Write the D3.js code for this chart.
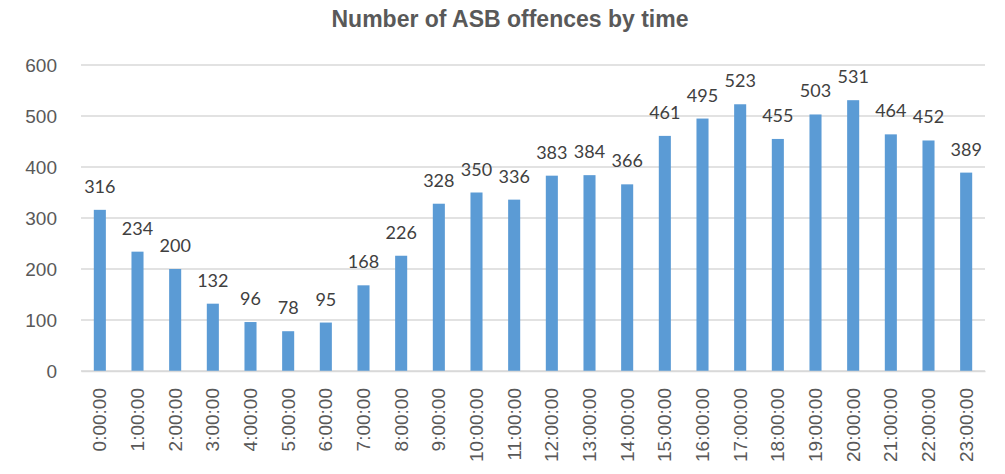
<!DOCTYPE html>
<html>
<head>
<meta charset="utf-8">
<script src="https://cdn.jsdelivr.net/npm/d3@7"></script>
<style>
    body { margin: 0; background: #fff; }
    svg { display: block; }
</style>
</head>
<body>
<svg width="1005" height="474"></svg>
<script>
const hours = ['0:00:00', '1:00:00', '2:00:00', '3:00:00', '4:00:00', '5:00:00',
    '6:00:00', '7:00:00', '8:00:00', '9:00:00', '10:00:00', '11:00:00',
    '12:00:00', '13:00:00', '14:00:00', '15:00:00', '16:00:00', '17:00:00',
    '18:00:00', '19:00:00', '20:00:00', '21:00:00', '22:00:00', '23:00:00'];
const offences = [316, 234, 200, 132, 96, 78, 95, 168, 226, 328, 350, 336,
    383, 384, 366, 461, 495, 523, 455, 503, 531, 464, 452, 389];
const yTicks = [0, 100, 200, 300, 400, 500, 600];

const svg = d3.select('svg');

const margin = {
    top: 65,
    left: 81,
    right: 20,
    bottom: 103
};

const width = +svg.attr('width') - margin.left - margin.right;
const height = +svg.attr('height') - margin.top - margin.bottom;

const chart = svg
    .append('g')
    .attr('transform', `translate(${margin.left},${margin.top})`);

// Title
svg.append('text')
    .attr('x', 510)
    .attr('y', 27)
    .style('text-anchor', 'middle')
    .style('font-family', 'Liberation Sans, Arial, sans-serif')
    .style('font-weight', 'bold')
    .style('font-size', '23px')
    .style('fill', '#595959')
    .text('Number of ASB offences by time');

// Scales
const xScale = d3
    .scaleBand()
    .domain(hours)
    .range([0, width])
    .paddingInner(0.68)
    .paddingOuter(0.34);

const yScale = d3
    .scaleLinear()
    .domain([0, 600])
    .range([height, 0]);

// Gridlines
chart
    .append('g')
    .selectAll('line')
    .data(yTicks)
    .enter()
    .append('line')
    .attr('x1', 0)
    .attr('x2', width)
    .attr('y1', d => yScale(d))
    .attr('y2', d => yScale(d))
    .style('stroke', '#d9d9d9')
    .style('stroke-width', 1.5);

// Y axis labels
const yAxis = chart
    .append('g')
    .call(d3.axisLeft(yScale).tickValues(yTicks).tickSize(0).tickPadding(24));
yAxis.select('.domain').remove();
yAxis.selectAll('text')
    .style('font-family', 'Liberation Sans, Arial, sans-serif')
    .style('font-size', '19px')
    .style('fill', '#595959');

// Bars
chart
    .append('g')
    .selectAll('rect')
    .data(offences)
    .enter()
    .append('rect')
    .attr('x', (d, i) => xScale(hours[i]))
    .attr('y', d => yScale(d))
    .attr('width', xScale.bandwidth())
    .attr('height', d => height - yScale(d))
    .style('fill', '#5b9bd5');

// Data labels
chart
    .append('g')
    .selectAll('text')
    .data(offences)
    .enter()
    .append('text')
    .attr('x', (d, i) => xScale(hours[i]) + xScale.bandwidth() / 2)
    .attr('y', d => yScale(d) - 17)
    .style('text-anchor', 'middle')
    .style('font-family', 'Lato, sans-serif')
    .style('font-size', '18px')
    .style('fill', '#404040')
    .text(d => d);

// X axis
const xAxis = chart
    .append('g')
    .attr('transform', `translate(0,${height})`)
    .call(d3.axisBottom(xScale).tickSize(0).tickPadding(0));
xAxis.select('.domain')
    .style('stroke', '#d9d9d9')
    .style('stroke-width', 1.5);
xAxis.selectAll('text')
    .attr('transform', 'rotate(-90)')
    .attr('x', -17)
    .attr('y', 0)
    .attr('dy', '0.35em')
    .style('text-anchor', 'end')
    .style('font-family', 'Liberation Sans, Arial, sans-serif')
    .style('font-size', '19px')
    .style('fill', '#595959');
</script>
</body>
</html>
